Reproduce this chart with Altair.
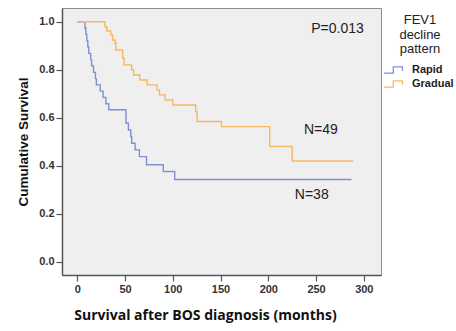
import altair as alt
import pandas as pd

# Kaplan-Meier steps
rapid_t = [0, 8, 9, 10, 11, 12, 14, 15, 17, 19, 20, 24, 27, 30, 33, 51, 53.5, 56, 57, 60.5, 65, 72.5, 90, 102, 287]
rapid_s = [1.0, 0.974, 0.947, 0.921, 0.895, 0.868, 0.842, 0.816, 0.789, 0.763, 0.737, 0.711, 0.684, 0.658, 0.633,
           0.577, 0.549, 0.521, 0.494, 0.466, 0.438, 0.404, 0.376, 0.343, 0.343]

gradual_t = [0, 29, 31, 35, 37, 39.5, 40.5, 47.5, 49, 57, 59, 65.5, 73, 83.5, 86, 92, 100, 124, 125.5, 151, 201.5, 225, 289]
gradual_s = [1.0, 0.979, 0.961, 0.945, 0.924, 0.91, 0.882, 0.848, 0.82, 0.799, 0.778, 0.757, 0.737, 0.716, 0.695,
             0.674, 0.653, 0.625, 0.584, 0.563, 0.48, 0.42, 0.42]

groups = ["Rapid", "Gradual"]
colors = ["#7f90d4", "#f6b865"]

x_ticks = [0, 50, 100, 150, 200, 250, 300]
y_ticks = [0.0, 0.2, 0.4, 0.6, 0.8, 1.0]

ann_text = ["P=0.013", "N=49", "N=38"]
ann_x = [272.5, 255, 245.5]
ann_y = [0.97, 0.549, 0.279]

rows = []
for t, s in zip(rapid_t, rapid_s):
    rows.append({"group": "Rapid", "t": t, "s": s})
for t, s in zip(gradual_t, gradual_s):
    rows.append({"group": "Gradual", "t": t, "s": s})
df = pd.DataFrame(rows)
ann = pd.DataFrame({"label": ann_text, "x": ann_x, "y": ann_y})

xscale = alt.Scale(domain=[-16, 318], nice=False, zero=False)
yscale = alt.Scale(domain=[-0.055, 1.057], nice=False, zero=False)

step_path = "M-1.45,0.45 L-0.1,0.45 L-0.1,-0.45 L1.2,-0.45 L1.2,0.1"

lines = alt.Chart(df).mark_line(interpolate="step-after", strokeWidth=1.4).encode(
    x=alt.X("t:Q", scale=xscale,
            axis=alt.Axis(values=x_ticks, title="Survival after BOS diagnosis (months)",
                          titleFont="Open Sans", titleFontSize=14, titleFontWeight="bold",
                          titleColor="#111", titlePadding=14, titleX=143)),
    y=alt.Y("s:Q", scale=yscale,
            axis=alt.Axis(values=y_ticks, format=".1f", title="Cumulative Survival",
                          titleFontSize=13.5, titleFontWeight="bold", titleColor="#111",
                          titlePadding=8)),
    color=alt.Color("group:N", scale=alt.Scale(domain=groups, range=colors),
                    legend=alt.Legend(title=["FEV1", "decline", "pattern"], orient="none",
                                      legendX=324, legendY=6,
                                      symbolType=step_path, symbolSize=196,
                                      symbolStrokeWidth=1.3, symbolFillColor="transparent",
                                      titleFont="Liberation Sans", titleFontSize=13,
                                      titleFontWeight="normal", titleColor="#222",
                                      titleAnchor="middle", titleAlign="center",
                                      titleLineHeight=14.5, titlePadding=6,
                                      labelFont="Liberation Sans", labelFontSize=11,
                                      labelFontWeight="bold", labelColor="#222",
                                      labelOffset=10, rowPadding=0)),
    detail="group:N",
)

texts = alt.Chart(ann).mark_text(font="Liberation Sans", fontSize=14, color="#222").encode(
    x=alt.X("x:Q", scale=xscale),
    y=alt.Y("y:Q", scale=yscale),
    text="label:N",
)

chart = alt.layer(lines, texts).properties(
    width=319, height=267,
    autosize=alt.AutoSizeParams(type="none"),
    padding={"left": 62, "top": 8, "right": 75, "bottom": 56},
).configure_view(
    fill="#efefef", stroke="#8c8c8c", strokeWidth=1,
).configure_axis(
    labelFont="Liberation Sans", labelFontSize=11, labelFontWeight="bold", labelColor="#333",
    titleFont="Liberation Sans",
    domainColor="#555", domainWidth=1.5, tickColor="#555", tickSize=6, tickWidth=1.2,
    labelPadding=2, grid=False,
)

chart.save("out.html", embed_options={"renderer": "svg", "actions": False})
